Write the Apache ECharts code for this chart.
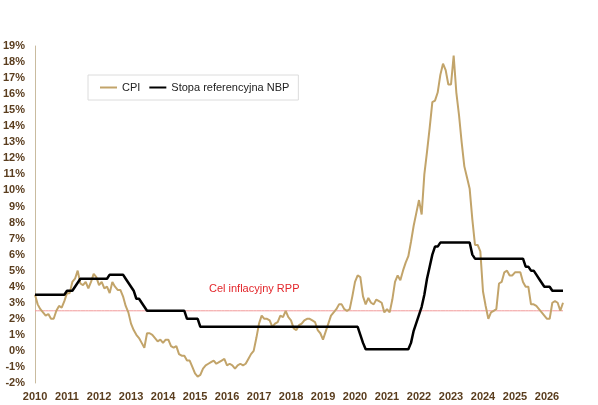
<!DOCTYPE html>
<html>
<head>
<meta charset="utf-8">
<script src="https://cdn.jsdelivr.net/npm/echarts@6/dist/echarts.min.js"></script>
<style>
  html, body { margin: 0; padding: 0; background: #fff; }
  #chart { width: 598px; height: 405px; }
</style>
</head>
<body>
<div id="chart"></div>
<script>
// lata na osi X (etykiety co 12 miesięcy)
const years = ['2010', '2011', '2012', '2013', '2014', '2015', '2016', '2017', '2018',
  '2019', '2020', '2021', '2022', '2023', '2024', '2025', '2026']
const lastMonth = 7 // dane do lipca 2026

// CPI r/r, %, miesięcznie od 01.2010
const cpi = [
  3.5, 2.9, 2.6, 2.4, 2.2, 2.3, 2.0, 2.0, 2.5, 2.8, 2.7, 3.1,
  3.6, 3.6, 4.3, 4.5, 5.0, 4.2, 4.1, 4.3, 3.9, 4.3, 4.8, 4.6,
  4.1, 4.3, 3.9, 4.0, 3.6, 4.3, 4.0, 3.8, 3.8, 3.4, 2.8, 2.4,
  1.7, 1.3, 1.0, 0.8, 0.5, 0.2, 1.1, 1.1, 1.0, 0.8, 0.6, 0.7,
  0.5, 0.7, 0.7, 0.3, 0.2, 0.3, -0.2, -0.3, -0.3, -0.6, -0.6, -1.0,
  -1.4, -1.6, -1.5, -1.1, -0.9, -0.8, -0.7, -0.6, -0.8, -0.7, -0.6, -0.5,
  -0.9, -0.8, -0.9, -1.1, -0.9, -0.8, -0.9, -0.8, -0.5, -0.2, 0.0, 0.8,
  1.7, 2.2, 2.0, 2.0, 1.9, 1.5, 1.7, 1.8, 2.2, 2.1, 2.5, 2.1,
  1.9, 1.4, 1.3, 1.6, 1.7, 1.9, 2.0, 2.0, 1.9, 1.8, 1.3, 1.1,
  0.7, 1.2, 1.7, 2.2, 2.4, 2.6, 2.9, 2.9, 2.6, 2.5, 2.6, 3.4,
  4.3, 4.7, 4.6, 3.4, 2.9, 3.3, 3.0, 2.9, 3.2, 3.1, 3.0, 2.4,
  2.6, 2.4, 3.2, 4.3, 4.7, 4.4, 5.0, 5.5, 5.9, 6.8, 7.8, 8.6,
  9.4, 8.5, 11.0, 12.4, 13.9, 15.5, 15.6, 16.1, 17.2, 17.9, 17.5, 16.6,
  16.6, 18.4, 16.1, 14.7, 13.0, 11.5, 10.8, 10.1, 8.2, 6.6, 6.6, 6.2,
  3.7, 2.8, 2.0, 2.4, 2.5, 2.6, 4.2, 4.3, 4.9, 5.0, 4.7, 4.7,
  4.9, 4.9, 4.9, 4.3, 4.0, 4.0, 2.9, 2.9, 2.8, 2.6, 2.4, 2.2,
  2.0, 2.0, 3.0, 3.1, 3.0, 2.5, 3.0
]

// stopa referencyjna NBP, %, miesięcznie od 01.2010
const stopa = [
  3.5, 3.5, 3.5, 3.5, 3.5, 3.5, 3.5, 3.5, 3.5, 3.5, 3.5, 3.5,
  3.75, 3.75, 3.75, 4.0, 4.25, 4.5, 4.5, 4.5, 4.5, 4.5, 4.5, 4.5,
  4.5, 4.5, 4.5, 4.5, 4.75, 4.75, 4.75, 4.75, 4.75, 4.75, 4.5, 4.25,
  4.0, 3.75, 3.25, 3.25, 3.0, 2.75, 2.5, 2.5, 2.5, 2.5, 2.5, 2.5,
  2.5, 2.5, 2.5, 2.5, 2.5, 2.5, 2.5, 2.5, 2.5, 2.0, 2.0, 2.0,
  2.0, 2.0, 1.5, 1.5, 1.5, 1.5, 1.5, 1.5, 1.5, 1.5, 1.5, 1.5,
  1.5, 1.5, 1.5, 1.5, 1.5, 1.5, 1.5, 1.5, 1.5, 1.5, 1.5, 1.5,
  1.5, 1.5, 1.5, 1.5, 1.5, 1.5, 1.5, 1.5, 1.5, 1.5, 1.5, 1.5,
  1.5, 1.5, 1.5, 1.5, 1.5, 1.5, 1.5, 1.5, 1.5, 1.5, 1.5, 1.5,
  1.5, 1.5, 1.5, 1.5, 1.5, 1.5, 1.5, 1.5, 1.5, 1.5, 1.5, 1.5,
  1.5, 1.5, 1.0, 0.5, 0.1, 0.1, 0.1, 0.1, 0.1, 0.1, 0.1, 0.1,
  0.1, 0.1, 0.1, 0.1, 0.1, 0.1, 0.1, 0.1, 0.1, 0.5, 1.25, 1.75,
  2.25, 2.75, 3.5, 4.5, 5.25, 6.0, 6.5, 6.5, 6.75, 6.75, 6.75, 6.75,
  6.75, 6.75, 6.75, 6.75, 6.75, 6.75, 6.75, 6.75, 6.0, 5.75, 5.75, 5.75,
  5.75, 5.75, 5.75, 5.75, 5.75, 5.75, 5.75, 5.75, 5.75, 5.75, 5.75, 5.75,
  5.75, 5.75, 5.75, 5.75, 5.25, 5.25, 5.0, 5.0, 4.75, 4.5, 4.25, 4.0,
  4.0, 4.0, 3.75, 3.75, 3.75, 3.75, 3.75
]

const celInflacyjny = 2.5

// kategorie miesięczne RRRR-MM
const months = []
years.forEach((y, i) => {
  const n = i === years.length - 1 ? lastMonth : 12
  for (let m = 1; m <= n; m++) months.push(y + '-' + String(m).padStart(2, '0'))
})

const labelColor = '#5a3d1e'
const chart = echarts.init(document.getElementById('chart'))

chart.setOption({
  backgroundColor: '#fff',
  animation: false,
  grid: { left: 33, right: 35, top: 46, bottom: 22, containLabel: false },
  legend: {
    left: 88,
    top: 75,
    padding: [7, 9, 7, 12],
    itemGap: 9,
    itemWidth: 17,
    itemHeight: 2,
    borderColor: '#dcdcdc',
    borderWidth: 1,
    textStyle: { fontFamily: 'Liberation Sans, Arial', fontSize: 11, color: '#222' },
    data: [
      { name: 'CPI', icon: 'rect' },
      { name: 'Stopa referencyjna NBP', icon: 'rect', itemStyle: { color: '#000' } }
    ]
  },
  xAxis: {
    type: 'category',
    data: months,
    boundaryGap: false,
    axisLine: { show: false },
    axisTick: { show: false },
    splitLine: { show: false },
    axisLabel: {
      interval: (i) => i % 12 === 0,
      formatter: (v) => v.slice(0, 4),
      margin: 8,
      color: labelColor,
      fontFamily: 'Liberation Sans, Arial',
      fontWeight: 'bold',
      fontSize: 11
    }
  },
  yAxis: {
    type: 'value',
    min: -2,
    max: 19,
    interval: 1,
    axisLine: { show: true, lineStyle: { color: '#c9bb9f', width: 1 } },
    axisTick: { show: false },
    splitLine: { show: false },
    axisLabel: {
      formatter: '{value}%',
      margin: 10,
      color: labelColor,
      fontFamily: 'Liberation Sans, Arial',
      fontWeight: 'bold',
      fontSize: 11
    }
  },
  graphic: [{
    type: 'text',
    left: 209,
    top: 283,
    style: {
      text: 'Cel inflacyjny RPP',
      fill: '#e3262b',
      font: '11px "Liberation Sans", Arial'
    }
  }],
  series: [
    {
      // linia celu inflacyjnego
      name: 'Cel inflacyjny RPP',
      type: 'line',
      data: months.map(() => celInflacyjny),
      symbol: 'none',
      silent: true,
      color: '#f29a9a',
      lineStyle: { color: '#f29a9a', width: 1 },
      z: 1
    },
    {
      name: 'CPI',
      type: 'line',
      data: cpi,
      symbol: 'none',
      color: '#c2a46a',
      lineStyle: { color: '#c2a46a', width: 2 },
      z: 2
    },
    {
      name: 'Stopa referencyjna NBP',
      type: 'line',
      data: stopa,
      symbol: 'none',
      color: '#000',
      lineStyle: { color: '#000', width: 2.5 },
      z: 3
    }
  ]
})
</script>
</body>
</html>
